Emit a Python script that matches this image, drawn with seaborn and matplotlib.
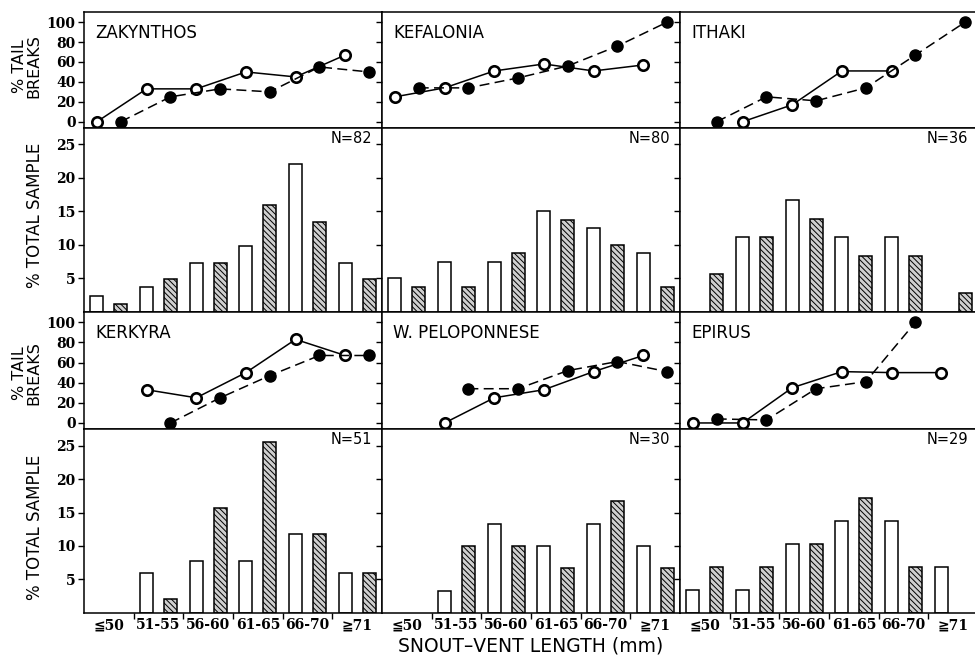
import numpy as np
import pandas as pd
import matplotlib
matplotlib.use("Agg")
import matplotlib.pyplot as plt
import seaborn as sns

# ---------------- data ----------------
categories = ["≦50", "51-55", "56-60", "61-65", "66-70", "≧71"]
regions = ["ZAKYNTHOS", "KEFALONIA", "ITHAKI", "KERKYRA", "W. PELOPONNESE", "EPIRUS"]
sample_sizes = [82, 80, 36, 51, 30, 29]
nan = np.nan

# % total sample: open bars / hatched bars
zak_open_bars = [2.4, 3.7, 7.3, 9.8, 22.0, 7.3]
zak_hatch_bars = [1.2, 4.9, 7.3, 15.9, 13.4, 4.9]
kef_open_bars = [5.0, 7.5, 7.5, 15.0, 12.5, 8.75]
kef_hatch_bars = [3.75, 3.75, 8.75, 13.75, 10.0, 3.75]
ith_open_bars = [nan, 11.1, 16.7, 11.1, 11.1, nan]
ith_hatch_bars = [5.6, 11.1, 13.9, 8.3, 8.3, 2.8]
ker_open_bars = [nan, 5.9, 7.8, 7.8, 11.8, 5.9]
ker_hatch_bars = [nan, 2.0, 15.7, 25.5, 11.8, 5.9]
pel_open_bars = [nan, 3.3, 13.3, 10.0, 13.3, 10.0]
pel_hatch_bars = [nan, 10.0, 10.0, 6.7, 16.7, 6.7]
epi_open_bars = [3.4, 3.4, 10.3, 13.8, 13.8, 6.9]
epi_hatch_bars = [6.9, 6.9, 10.3, 17.2, 6.9, nan]

# % tail breaks: open circles / filled circles
zak_open_breaks = [0, 33, 33, 50, 45, 67]
zak_filled_breaks = [0, 25, 33, 30, 55, 50]
kef_open_breaks = [25, 34, 51, 58, 51, 57]
kef_filled_breaks = [34, 34, 44, 56, 76, 100]
ith_open_breaks = [nan, 0, 17, 51, 51, nan]
ith_filled_breaks = [0, 25, 21, 34, 67, 100]
ker_open_breaks = [nan, 33, 25, 50, 83, 67]
ker_filled_breaks = [nan, 0, 25, 47, 67, 67]
pel_open_breaks = [nan, 0, 25, 33, 51, 67]
pel_filled_breaks = [nan, 34, 34, 52, 61, 51]
epi_open_breaks = [0, 0, 35, 51, 50, 50]
epi_filled_breaks = [4, 3, 34, 41, 100, nan]

open_bars = [zak_open_bars, kef_open_bars, ith_open_bars, ker_open_bars, pel_open_bars, epi_open_bars]
hatch_bars = [zak_hatch_bars, kef_hatch_bars, ith_hatch_bars, ker_hatch_bars, pel_hatch_bars, epi_hatch_bars]
open_breaks = [zak_open_breaks, kef_open_breaks, ith_open_breaks, ker_open_breaks, pel_open_breaks, epi_open_breaks]
filled_breaks = [zak_filled_breaks, kef_filled_breaks, ith_filled_breaks, ker_filled_breaks, pel_filled_breaks, epi_filled_breaks]

# ---------------- style ----------------
sns.set_style("white")
plt.rcParams["font.family"] = ["DejaVu Sans"]
plt.rcParams["text.color"] = "black"
plt.rcParams["axes.labelcolor"] = "black"
plt.rcParams["xtick.color"] = "black"
plt.rcParams["ytick.color"] = "black"
plt.rcParams["hatch.linewidth"] = 0.7
plt.rcParams["hatch.color"] = "black"

W, H = 975, 656
fig = plt.figure(figsize=(W / 100, H / 100), dpi=100)

col_left = [84, 382, 680]
col_w = 298
rows = [  # (line top, line bottom, bar bottom) in pixels from top
    (11.7, 127.7, 311.7),
    (311.7, 429.0, 612.7),
]

serif = ["DejaVu Serif", "DejaVu Sans"]
tick_fp = dict(family=serif, weight="bold", size=10, color="black")
OFF = 0.24


def frac_rect(x0, y_top, y_bot, w):
    return [x0 / W, 1 - y_bot / H, w / W, (y_bot - y_top) / H]


for k in range(6):
    r, c = divmod(k, 3)
    lt, lb, bb = rows[r]
    ax_l = fig.add_axes(frac_rect(col_left[c], lt, lb, col_w))
    ax_b = fig.add_axes(frac_rect(col_left[c], lb, bb, col_w))

    # ---- bars ----
    recs = []
    for i, cat in enumerate(categories):
        if not np.isnan(open_bars[k][i]):
            recs.append((cat, "open", open_bars[k][i]))
        if not np.isnan(hatch_bars[k][i]):
            recs.append((cat, "hatched", hatch_bars[k][i]))
    df = pd.DataFrame(recs, columns=["size", "group", "pct"])
    sns.barplot(data=df, x="size", y="pct", hue="group", order=categories,
                hue_order=["open", "hatched"], dodge=True, width=0.96, gap=0.46,
                palette={"open": "white", "hatched": "#cfcfcf"},
                edgecolor="black", linewidth=1.1, legend=False, ax=ax_b)
    for p in ax_b.patches:
        if tuple(np.round(p.get_facecolor()[:3], 2)) != (1.0, 1.0, 1.0):
            p.set_hatch("\\\\\\\\\\\\")
    ax_b.set_xlim(-0.5, 5.5)
    ax_b.set_ylim(0, 27.5)
    ax_b.set_xlabel("")
    ax_b.set_ylabel("")
    ax_b.set_yticks([5, 10, 15, 20, 25])
    ax_b.set_xticks([0.5, 1.5, 2.5, 3.5, 4.5])
    ax_b.set_xticklabels([])
    ax_b.tick_params(axis="both", which="major", direction="out", length=4, width=1.0,
                     bottom=True, left=True, colors="black")
    if r == 1:
        ax_b.set_xticks(range(6), minor=True)
        ax_b.set_xticklabels(categories, minor=True, fontdict=tick_fp)
        ax_b.tick_params(axis="x", which="minor", length=0, pad=4)
    if c == 0:
        ax_b.set_yticklabels(["5", "10", "15", "20", "25"], fontdict=tick_fp)
    else:
        ax_b.set_yticklabels([])
    ax_b.tick_params(axis="y", pad=2)
    ax_b.text(0.966, 0.944, f"N={sample_sizes[k]}", transform=ax_b.transAxes,
              ha="right", va="center", fontsize=10.5, color="black")

    # ---- tail breaks ----
    x = np.arange(len(categories))
    sns.lineplot(x=x - OFF, y=open_breaks[k], ax=ax_l, color="black",
                 marker="o", markersize=7.5, markerfacecolor="white",
                 markeredgecolor="black", markeredgewidth=1.9,
                 linewidth=1.1, linestyle="-")
    sns.lineplot(x=x + OFF, y=filled_breaks[k], ax=ax_l, color="black",
                 marker="o", markersize=8, markerfacecolor="black",
                 markeredgecolor="black", markeredgewidth=1.0,
                 linewidth=1.1, linestyle=(0, (6.5, 3.5)))
    ax_l.set_xlim(-0.5, 5.5)
    ax_l.set_ylim(-6, 110.5)
    ax_l.set_xticks([])
    ax_l.set_yticks([0, 20, 40, 60, 80, 100])
    ax_l.set_xlabel("")
    ax_l.set_ylabel("")
    ax_l.tick_params(axis="y", direction="out", length=4, width=1.0, left=True, pad=2)
    if c == 0:
        ax_l.set_yticklabels(["0", "20", "40", "60", "80", "100"], fontdict=tick_fp)
    else:
        ax_l.set_yticklabels([])
    ax_l.text(0.037, 0.816, regions[k], transform=ax_l.transAxes,
              ha="left", va="center", fontsize=12, color="black")

    for a in (ax_l, ax_b):
        for s in a.spines.values():
            s.set_color("black")
            s.set_linewidth(1.1)
            s.set_visible(True)

# axis titles
for yc in (66, 373):
    fig.text(27 / W, 1 - yc / H, "% TAIL\nBREAKS", rotation=90, ha="center",
             va="center", fontsize=11.5, linespacing=0.95, color="black")
for yc in (215, 527):
    fig.text(35 / W, 1 - yc / H, "% TOTAL SAMPLE", rotation=90, ha="center",
             va="center", fontsize=12, color="black")
fig.text(531 / W, 1 - 646 / H, "SNOUT–VENT LENGTH (mm)", ha="center", va="center",
         fontsize=13.5, color="black")

fig.savefig("out.png", dpi=100)
